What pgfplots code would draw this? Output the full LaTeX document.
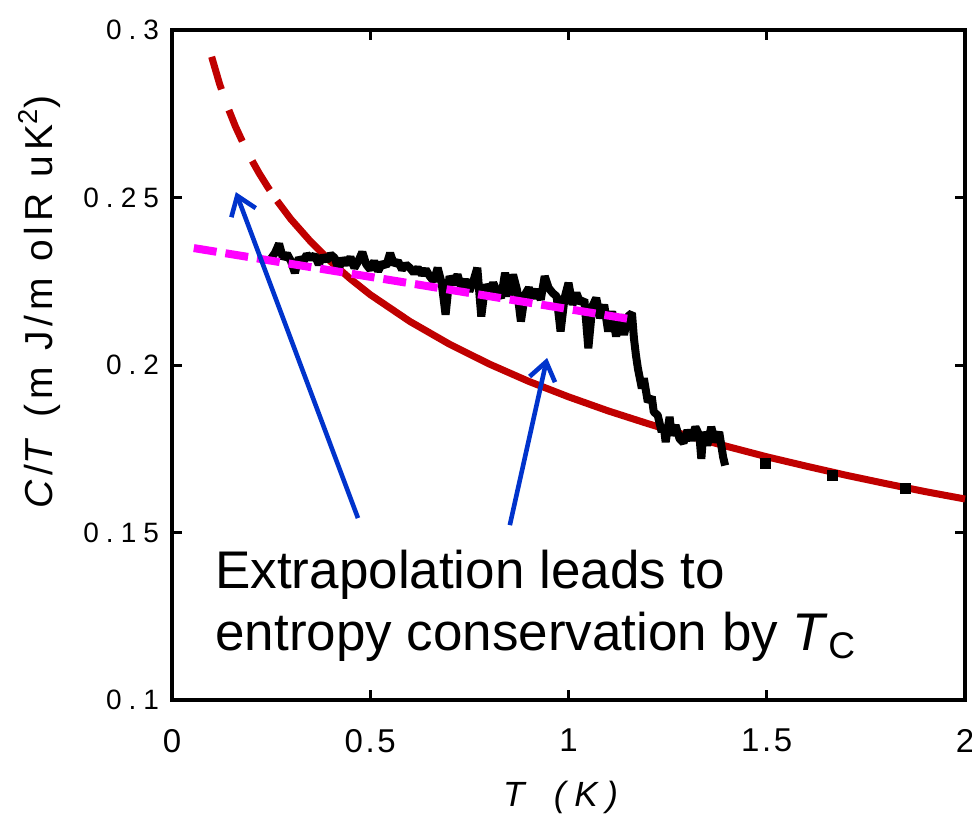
\documentclass[border=0pt]{standalone}
\usepackage{fontspec}
\setmainfont{Liberation Sans}
\newfontfamily\ytickfont[LetterSpace=25]{Liberation Sans}
\newfontfamily\xtickfont[LetterSpace=8]{Liberation Sans}
\newfontfamily\labfont[LetterSpace=13]{Liberation Sans}
\newfontfamily\xlabfont[LetterSpace=25]{Liberation Sans}
\usepackage{pgfplots}
\pgfplotsset{compat=1.18}
\usetikzlibrary{arrows.meta}
\definecolor{cred}{HTML}{C00000}
\definecolor{cmag}{HTML}{FF00FF}
\definecolor{cblue}{HTML}{0033CC}
\begin{document}
\begin{tikzpicture}
\begin{axis}[
  scale only axis, width=396.5pt, height=335pt,
  xmin=0, xmax=2, ymin=0.1, ymax=0.3,
  xtick={0,0.5,1,1.5,2}, ytick={0.1,0.15,0.2,0.25,0.3},
  tick align=inside, major tick length=5pt,
  axis line style={line width=2pt},
  every tick/.style={black, line width=1.5pt},
  /pgf/number format/assume math mode=true,
  xticklabel style={font=\fontsize{16.5}{16.5}\xtickfont, yshift=-11pt},
  yticklabel style={font=\fontsize{14}{14}\ytickfont, xshift=-3pt},
  clip=false,
]
% red extrapolation (dashed)
\addplot[cred, line width=3.5pt, dash pattern=on 17pt off 11pt] coordinates {
(0.10,0.2920) (0.12,0.2839) (0.14,0.2771) (0.16,0.2712) (0.18,0.2661)
(0.20,0.2614) (0.22,0.2572) (0.24,0.2534) (0.265,0.2490)};
% red fit (solid)
\addplot[cred, line width=3.5pt] coordinates {
(0.265,0.2490) (0.30,0.2435) (0.35,0.2368) (0.40,0.2309) (0.45,0.2257)
(0.50,0.2210) (0.60,0.2130) (0.70,0.2062) (0.80,0.2003) (0.90,0.1951)
(1.00,0.1905) (1.10,0.1863) (1.20,0.1825) (1.30,0.1789) (1.40,0.1757)
(1.50,0.1726) (1.60,0.1698) (1.70,0.1671) (1.80,0.1646) (1.90,0.1622) (2.00,0.1600)};
% black data
\addplot[black, line width=4pt, line join=bevel] coordinates {
(0.25,0.2318) (0.26,0.2335) (0.27,0.2362) (0.28,0.2318) (0.29,0.2332)
(0.30,0.2310) (0.31,0.2275) (0.32,0.2320) (0.33,0.2305) (0.34,0.2330)
(0.35,0.2318) (0.36,0.2328) (0.37,0.2300) (0.38,0.2325) (0.39,0.2312)
(0.40,0.2330) (0.41,0.2320) (0.42,0.2285) (0.43,0.2318) (0.44,0.2300)
(0.45,0.2322) (0.46,0.2290) (0.47,0.2310) (0.48,0.2337) (0.49,0.2300)
(0.50,0.2285) (0.51,0.2310) (0.52,0.2280) (0.53,0.2305) (0.54,0.2295)
(0.55,0.2334) (0.56,0.2300) (0.57,0.2310) (0.58,0.2285) (0.59,0.2300)
(0.60,0.2290) (0.61,0.2275) (0.62,0.2290) (0.63,0.2270) (0.64,0.2285)
(0.65,0.2265) (0.66,0.2250) (0.67,0.2290) (0.68,0.2245) (0.69,0.2150)
(0.70,0.2265) (0.71,0.2240) (0.72,0.2270) (0.73,0.2230) (0.74,0.2255)
(0.75,0.2220) (0.76,0.2250) (0.77,0.2290) (0.78,0.2145) (0.79,0.2240)
(0.80,0.2215) (0.81,0.2245) (0.82,0.2220) (0.83,0.2200) (0.84,0.2275)
(0.85,0.2205) (0.86,0.2270) (0.87,0.2225) (0.88,0.2130) (0.89,0.2210)
(0.90,0.2230) (0.91,0.2200) (0.92,0.2225) (0.93,0.2195) (0.94,0.2265)
(0.95,0.2230) (0.96,0.2215) (0.97,0.2205) (0.98,0.2100) (0.99,0.2200)
(1.00,0.2245) (1.01,0.2180) (1.02,0.2215) (1.03,0.2185) (1.04,0.2195)
(1.05,0.2050) (1.06,0.2175) (1.07,0.2200) (1.08,0.2140) (1.09,0.2180)
(1.10,0.2100) (1.11,0.2160) (1.12,0.2085) (1.13,0.2150) (1.14,0.2090)
(1.15,0.2145) (1.16,0.2155) (1.165,0.2080) (1.17,0.2030) (1.175,0.1990)
(1.185,0.1930) (1.19,0.1960) (1.20,0.1890) (1.21,0.1905) (1.215,0.1860)
(1.225,0.1850) (1.235,0.1800) (1.24,0.1820) (1.245,0.1770) (1.255,0.1845)
(1.26,0.1790) (1.27,0.1820) (1.28,0.1780) (1.29,0.1768) (1.30,0.1805)
(1.31,0.1775) (1.32,0.1815) (1.33,0.1790) (1.335,0.1720) (1.34,0.1800)
(1.35,0.1760) (1.36,0.1815) (1.37,0.1770) (1.38,0.1800) (1.39,0.1725) (1.395,0.1700)};
% isolated points
\addplot[only marks, mark=square*, mark size=2.5pt, black] coordinates {
(1.496,0.1707) (1.665,0.1669) (1.849,0.1633)};
% magenta linear extrapolation
\addplot[cmag, line width=4pt, dash pattern=on 11.5pt off 4.5pt] coordinates {
(0.055,0.2349) (1.155,0.2137)};
% arrows
\draw[cblue, line width=2.3pt, -{Straight Barb[length=9pt,width=13pt]}] (axis cs:0.469,0.1543) -- (axis cs:0.161,0.2516);
\draw[cblue, line width=2.3pt, -{Straight Barb[length=9pt,width=13pt]}] (axis cs:0.852,0.1522) -- (axis cs:0.946,0.2021);
% annotation
\node[anchor=base west, inner sep=0pt, font=\fontsize{26.5}{26.5}\selectfont] at (axis cs:0.1084,0.1334) {Extrapolation leads to};
\node[anchor=base west, inner sep=0pt, font=\fontsize{26.5}{26.5}\selectfont] at (axis cs:0.1084,0.1149) {entropy conservation by \textit{T}\textsubscript{C}};
% axis labels
\node[rotate=90, inner sep=0pt, font=\fontsize{19.5}{19.5}\labfont] at (axis description cs:-0.1665,0.594) {\textit{C}/\textit{T} (m J/m olR uK\textsuperscript{2})};
\node[inner sep=0pt, font=\fontsize{17.5}{17.5}\xlabfont] at (axis description cs:0.4956,-0.145) {\textit{T} \textit{(K)}};
\end{axis}
\pgfresetboundingbox
\path (-86pt,-59.5pt) rectangle (400pt,350pt);
\end{tikzpicture}
\end{document}
